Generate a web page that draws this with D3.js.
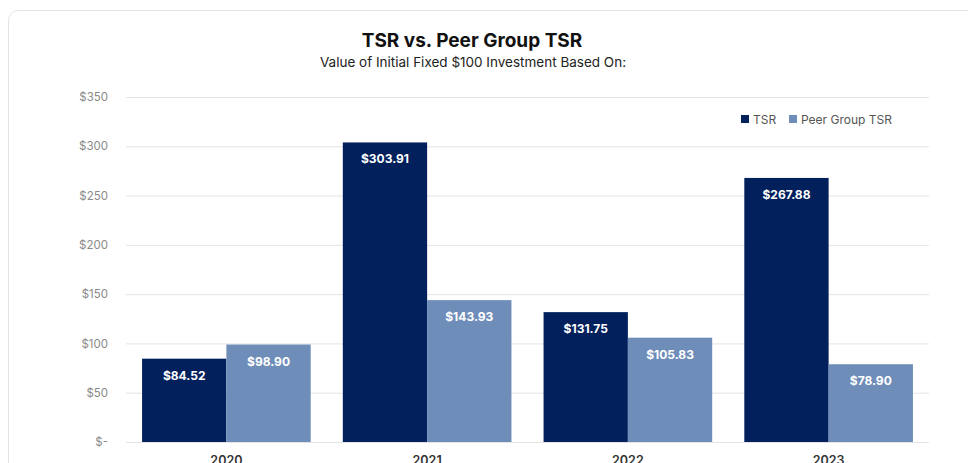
<!DOCTYPE html>
<html>
<head>
<meta charset="utf-8">
<script src="https://cdn.jsdelivr.net/npm/d3@7"></script>
<style>
  body { margin: 0; background: #fff; }
  svg { display: block; }
</style>
</head>
<body>
<svg id="chart"></svg>
<script>
const years = ["2020", "2021", "2022", "2023"];
const seriesNames = ["TSR", "Peer Group TSR"];
const tsrValues = [84.52, 303.91, 131.75, 267.88];
const peerValues = [98.90, 143.93, 105.83, 78.90];
const yTicks = [0, 50, 100, 150, 200, 250, 300, 350];

const colorMap = { "TSR": "#02205c", "Peer Group TSR": "#6f8db9" };
const font_family = "Inter, 'Noto Sans', sans-serif";

const width = 968, height = 463;
const margin = { top: 97, right: 39, bottom: 21, left: 126 };
const innerWidth = width - margin.left - margin.right;
const innerHeight = height - margin.top - margin.bottom;

const data = years.map((yr, i) => ({ year: yr, values: [
    { key: seriesNames[0], value: tsrValues[i] },
    { key: seriesNames[1], value: peerValues[i] }
] }));

const root = d3.select("#chart").attr("width", width).attr("height", height);

// card
root.append("rect")
    .attr("x", 8.5).attr("y", 10.5)
    .attr("width", 980).attr("height", 480)
    .attr("rx", 10)
    .attr("fill", "#fff")
    .attr("stroke", "#e3e3e3");

// Title
root.append("text")
    .attr("x", 472).attr("y", 47)
    .attr("text-anchor", "middle")
    .attr("font-family", font_family)
    .attr("font-size", 19)
    .attr("font-weight", 700)
    .attr("fill", "#111")
    .text("TSR vs. Peer Group TSR");

root.append("text")
    .attr("x", 473).attr("y", 67)
    .attr("text-anchor", "middle")
    .attr("font-family", font_family)
    .attr("font-size", 13.5)
    .attr("fill", "#222")
    .text("Value of Initial Fixed $100 Investment Based On:");

const svg = root.append("g")
    .attr("transform", `translate(${margin.left},${margin.top})`);

// Scales
const y = d3.scaleLinear().domain([0, 350]).range([innerHeight, 0]);
const x0 = d3.scaleBand().domain(years).range([0, innerWidth]).paddingInner(0.16).paddingOuter(0.08);
const x1 = d3.scaleBand().domain(seriesNames).range([0, x0.bandwidth()]);

// Gridlines + Y axis
const yAxis = svg.append("g")
    .call(d3.axisLeft(y).tickValues(yTicks).tickSize(-innerWidth).tickPadding(18)
        .tickFormat(d => d === 0 ? "$-" : "$" + d));
yAxis.select(".domain").remove();
yAxis.selectAll(".tick line").attr("stroke", "#e4e4e4");
yAxis.selectAll("text")
    .attr("fill", "#8a8a8a")
    .attr("font-family", font_family)
    .attr("font-size", 11.5);

// Bars
const groups = svg.selectAll(".year")
    .data(data)
    .enter()
    .append("g")
    .attr("transform", d => `translate(${x0(d.year)},0)`);

groups.selectAll("rect")
    .data(d => d.values)
    .enter()
    .append("rect")
    .attr("x", d => x1(d.key))
    .attr("y", d => y(d.value))
    .attr("width", x1.bandwidth())
    .attr("height", d => innerHeight - y(d.value))
    .attr("fill", d => colorMap[d.key]);

// Value labels
groups.selectAll(".val")
    .data(d => d.values)
    .enter()
    .append("text")
    .attr("x", d => x1(d.key) + x1.bandwidth() / 2)
    .attr("y", d => y(d.value) + 21)
    .attr("text-anchor", "middle")
    .attr("font-family", font_family)
    .attr("font-size", 12)
    .attr("font-weight", 700)
    .attr("fill", "#fff")
    .text(d => "$" + d.value.toFixed(2));

// X axis labels
svg.append("g")
    .attr("transform", `translate(0,${innerHeight})`)
    .call(d3.axisBottom(x0).tickSize(0).tickPadding(14))
    .call(g => g.select(".domain").remove())
    .selectAll("text")
    .attr("fill", "#333")
    .attr("font-family", font_family)
    .attr("font-size", 12.5)
    .attr("font-weight", 600);

// Legend
const legend = root.append("g").attr("transform", "translate(741,114)");
const legendX = [0, 48];
seriesNames.forEach((name, i) => {
    const lg = legend.append("g").attr("transform", `translate(${legendX[i]},0)`);
    lg.append("rect").attr("width", 8).attr("height", 8).attr("y", 1).attr("fill", colorMap[name]);
    lg.append("text")
        .attr("x", 12).attr("y", 9.5)
        .attr("font-family", font_family)
        .attr("font-size", 12)
        .attr("fill", "#555")
        .text(name);
});
</script>
</body>
</html>
